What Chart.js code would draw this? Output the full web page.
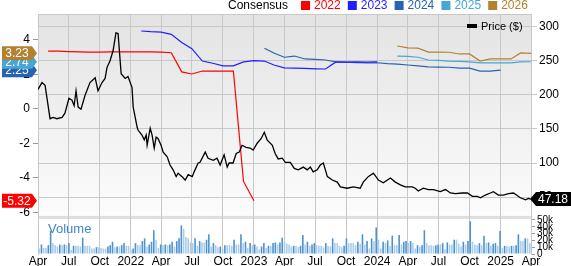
<!DOCTYPE html>
<html>
<head>
<meta charset="utf-8">
<script src="https://cdn.jsdelivr.net/npm/chart.js@4.4.1/dist/chart.umd.min.js"></script>
<style>
  html, body { margin: 0; padding: 0; background: #fff; }
</style>
</head>
<body>
<canvas id="chart" width="571" height="266"></canvas>
<script>
// x axis runs in weeks since 1 Apr 2021
const quarterLabels = ["Apr", "Jul", "Oct", "2022", "Apr", "Jul", "Oct", "2023", "Apr", "Jul", "Oct", "2024", "Apr", "Jul", "Oct", "2025", "Apr"];

// price ($)
const priceWeek = [0, 1.7, 3, 5.1, 6.4, 8, 10.2, 11.4, 13.1, 14.4,
  15.3, 16.1, 17, 18.2, 19.9, 22, 24.2, 25.4, 27.1, 28.4,
  29.2, 30.5, 31.8, 33, 33.9, 35.2, 36.9, 38.1, 39.8, 40.3,
  42, 42.4, 44, 45, 45.8, 46.2, 47.5, 48.3, 49.2, 50,
  50.8, 52.1, 53, 54.7, 55.9, 57.2, 58.5, 59.3, 61, 62.3,
  63.6, 65.3, 66.1, 67.8, 68.6, 70.8, 72, 74.2, 75.8, 77.1,
  78.8, 80.1, 80.9, 82.6, 83.9, 85.2, 86.4, 88.1, 89.8, 91.1,
  92.8, 94.5, 95.8, 97, 99.2, 100.4, 101.7, 103.4, 104.7, 106.8,
  108.5, 110.2, 112.3, 114, 115.3, 116.5, 118.2, 119.5, 120.8, 122.5,
  124.6, 126.7, 128, 130.9, 133.5, 136.4, 137.7, 139.8, 142, 144.1,
  146.2, 149.2, 151.3, 153.4, 155.5, 158.5, 159.7, 161, 163.1, 165.3,
  167.4, 170.3, 172.5, 174.6, 176.7, 179.7, 181.8, 183.9, 186, 187.3,
  189.4, 191.5, 192.8, 194.9, 197, 199.2, 201.3, 203, 204.2, 206.4,
  207.6, 208.5];
const priceValues = [208, 218, 214, 165, 167, 165, 167, 173, 195, 192,
  184, 206, 182, 179, 199, 218, 225, 206, 218, 224,
  240, 250, 265, 291, 290, 231, 224, 227, 211, 182,
  152, 148, 141, 134, 141, 126, 151, 141, 122, 138,
  136, 126, 116, 109, 97, 90, 80, 85, 80, 75,
  83, 80, 87, 100, 101, 116, 107, 104, 107, 97,
  112, 94, 100, 100, 114, 116, 126, 123, 122, 119,
  129, 136, 145, 134, 126, 114, 106, 107, 101, 101,
  92, 90, 94, 90, 94, 87, 90, 97, 100, 80,
  75, 72, 65, 63, 65, 63, 72, 80, 85, 75,
  71, 78, 72, 68, 65, 65, 63, 59, 63, 61,
  61, 58, 61, 56, 55, 56, 56, 51, 51, 49,
  53, 56, 58, 53, 53, 55, 56, 52, 49, 46,
  48, 47.18];

// weekly volume, thousands
const volumeK = [8, 14, 9, 9, 13, 34, 16, 13, 11, 14, 13, 14, 13, 16, 6, 12, 12, 12, 11, 24, 12, 12, 12, 8, 8, 10, 10, 9, 8, 8, 11, 13, 18, 10, 11, 11, 13, 16, 12, 12, 6, 8, 16, 13, 13, 19, 23, 11, 14, 18, 35, 21, 9, 14, 13, 14,
  13, 14, 18, 11, 19, 23, 42, 37, 25, 23, 17, 16, 23, 12, 19, 17, 17, 21, 29, 11, 16, 13, 10, 11, 8, 13, 13, 13, 12, 21, 14, 14, 29, 16, 18, 9, 16, 13, 14, 11, 7, 11, 16, 9, 12, 12, 16, 17, 14, 17, 24, 18, 15,
  14, 11, 12, 12, 10, 12, 28, 14, 18, 12, 14, 16, 13, 12, 12, 10, 16, 12, 11, 23, 16, 16, 12, 10, 12, 23, 16, 16, 16, 13, 18, 15, 29, 14, 19, 8, 23, 19, 39, 21, 8, 18, 16, 20, 12, 27, 13, 13, 28, 14, 18, 19, 16,
  19, 16, 8, 13, 11, 13, 35, 16, 13, 13, 12, 13, 14, 14, 16, 7, 17, 14, 14, 21, 21, 15, 11, 18, 14, 19, 48, 18, 14, 13, 16, 13, 27, 16, 17, 12, 15, 16, 12, 34, 9, 12, 12, 11, 12, 12, 13, 29, 19, 19, 23, 23, 16];
const volumeTicks = [0, 10, 20, 30, 40, 50];

// monthly EPS consensus; start = months after Apr 2021
const eps2022Start = 1;
const eps2022 = [3.36, 3.35, 3.33, 3.31, 3.30, 3.30, 3.31, 3.31, 3.32, 3.31, 3.31, 3.30, 3.26, 2.15, 2.03, 2.2, 2.2, 2.2, 2.2, -4.2, -5.32];
const eps2023Start = 10;
const eps2023 = [4.52, 4.48, 4.46, 4.33, 3.85, 3.5, 2.78, 2.65, 2.5, 2.5, 2.73, 2.8, 2.78, 2.55, 2.38, 2.37, 2.35, 2.33, 2.32, 2.73, 2.72, 2.73, 2.72, 2.73];
const eps2024Start = 22;
const eps2024 = [3.52, 3.25, 3.0, 3.07, 2.9, 2.88, 2.84, 2.73, 2.72, 2.68, 2.67, 2.68, 2.63, 2.6, 2.55, 2.5, 2.44, 2.43, 2.42, 2.37, 2.37, 2.2, 2.2, 2.25];
const eps2025Start = 35;
const eps2025 = [3.07, 3.05, 3.0, 2.84, 2.82, 2.78, 2.76, 2.73, 2.67, 2.67, 2.67, 2.67, 2.73, 2.74];
const eps2026Start = 35;
const eps2026 = [3.65, 3.54, 3.53, 3.3, 3.3, 3.29, 3.19, 3.19, 2.78, 2.9, 2.9, 2.9, 3.25, 3.23];

const FONT = '"Liberation Sans", Arial, sans-serif';
const colors = {
  "2022": "#ff0000",
  "2023": "#1f1fff",
  "2024": "#2763b3",
  "2025": "#45a6d8",
  "2026": "#b3812f"
};

function monthToWeek(m) {
  return (Date.UTC(2021, 3 + m, 1) - Date.UTC(2021, 3, 1)) / 864e5 / 7;
}
const totalWeeks = monthToWeek(48);
const quarterWeeks = quarterLabels.map((_, i) => monthToWeek(i * 3));

function epsPoints(start, vals) {
  return vals.map((v, i) => ({ x: monthToWeek(start + i), y: v }));
}

const volPoints = volumeK.map((v, i) => ({ x: (i + 0.5) * totalWeeks / volumeK.length, y: v }));
const volColors = volumeK.map((v, i) => (i > 0 && v > volumeK[i - 1]) ? "#4d93d0" : "#a9cdec");

function epsSet(year, start, vals) {
  return {
    type: "line", label: year, data: epsPoints(start, vals), yAxisID: "yEps",
    borderColor: colors[year], borderWidth: 1.2, pointRadius: 0, tension: 0, order: 2
  };
}

function flag(ctx, x0, x1, yc, color, text, pointLeft) {
  const h = 14;
  ctx.beginPath();
  if (pointLeft) {
    ctx.moveTo(x0, yc);
    ctx.lineTo(x0 + 6, yc - h / 2);
    ctx.lineTo(x1, yc - h / 2);
    ctx.lineTo(x1, yc + h / 2);
    ctx.lineTo(x0 + 6, yc + h / 2);
  } else {
    ctx.moveTo(x0, yc - h / 2);
    ctx.lineTo(x1 - 5, yc - h / 2);
    ctx.lineTo(x1, yc);
    ctx.lineTo(x1 - 5, yc + h / 2);
    ctx.lineTo(x0, yc + h / 2);
  }
  ctx.closePath();
  ctx.fillStyle = color;
  ctx.fill();
  ctx.fillStyle = "#fff";
  ctx.font = "12px " + FONT;
  ctx.textAlign = "center";
  ctx.textBaseline = "middle";
  ctx.fillText(text, pointLeft ? (x0 + x1 + 5) / 2 : (x0 + x1 - 5) / 2, yc + 0.5);
}

const decor = {
  id: "decor",
  beforeDraw(chart) {
    const { ctx, chartArea: a, scales } = chart;
    const sep = scales.yVol.getPixelForValue(56);
    ctx.save();
    ctx.fillStyle = "#fff";
    ctx.fillRect(0, 0, chart.width, chart.height);
    const g = ctx.createLinearGradient(0, a.top, 0, sep);
    g.addColorStop(0, "#e3e3e3");
    g.addColorStop(1, "#fcfcfc");
    ctx.fillStyle = g;
    ctx.fillRect(a.left, a.top, a.right - a.left, sep - a.top);
    ctx.fillStyle = "#dedede";
    ctx.fillRect(a.left, sep, a.right - a.left, 3);
    ctx.restore();
  },
  afterDraw(chart) {
    const { ctx, chartArea: a, scales } = chart;
    ctx.save();
    // top border
    ctx.strokeStyle = "#c8c8c8";
    ctx.lineWidth = 1;
    ctx.beginPath();
    ctx.moveTo(a.left, a.top + 0.5);
    ctx.lineTo(a.right, a.top + 0.5);
    ctx.stroke();

    // consensus legend
    ctx.font = "12px " + FONT;
    ctx.textBaseline = "middle";
    ctx.textAlign = "left";
    ctx.fillStyle = "#000";
    ctx.fillText("Consensus", 228, 6);
    ["2022", "2023", "2024", "2025", "2026"].forEach((y, i) => {
      const tx = 314 + i * 46.8;
      ctx.fillStyle = colors[y];
      ctx.fillRect(tx - 13, 1, 9, 9);
      ctx.fillText(y, tx, 6);
    });

    // price legend
    ctx.fillStyle = "#000";
    ctx.fillRect(467, 24, 10, 4);
    ctx.font = "11px " + FONT;
    ctx.fillText("Price ($)", 481, 26.5);

    // volume label
    ctx.fillStyle = "#3b88cc";
    ctx.font = "13px " + FONT;
    ctx.fillText("Volume", 48, 229);

    // volume axis labels (a zero-width axis clips its own labels)
    ctx.fillStyle = "#000";
    ctx.font = "10px " + FONT;
    volumeTicks.forEach((v) => {
      ctx.fillText(v === 0 ? "0" : v + "k", a.right + 6, scales.yVol.getPixelForValue(v));
    });

    // last-value flags
    const ye = scales.yEps;
    const last = (arr) => arr[arr.length - 1];
    flag(ctx, 2, 37, ye.getPixelForValue(last(eps2024)), colors["2024"], last(eps2024).toFixed(2), false);
    flag(ctx, 2, 37, ye.getPixelForValue(last(eps2025)), colors["2025"], last(eps2025).toFixed(2), false);
    flag(ctx, 2, 37, ye.getPixelForValue(last(eps2026)), colors["2026"], last(eps2026).toFixed(2), false);
    flag(ctx, 2, 37, ye.getPixelForValue(last(eps2022)), colors["2022"], last(eps2022).toFixed(2), false);
    const lp = last(priceValues);
    flag(ctx, a.right - 1, 571, scales.yPrice.getPixelForValue(lp), "#000", lp.toFixed(2), true);
    ctx.restore();
  }
};

new Chart(document.getElementById("chart"), {
  type: "line",
  data: {
    datasets: [
      {
        type: "line", label: "Price ($)", data: priceWeek.map((w, i) => ({ x: w, y: priceValues[i] })),
        yAxisID: "yPrice", borderColor: "#000", borderWidth: 1.3, pointRadius: 0, tension: 0, order: 1
      },
      epsSet("2022", eps2022Start, eps2022),
      epsSet("2023", eps2023Start, eps2023),
      epsSet("2024", eps2024Start, eps2024),
      epsSet("2025", eps2025Start, eps2025),
      epsSet("2026", eps2026Start, eps2026),
      {
        type: "bar", label: "Volume", data: volPoints, yAxisID: "yVol",
        backgroundColor: volColors, barPercentage: 0.7, categoryPercentage: 1, order: 3
      }
    ]
  },
  options: {
    responsive: false,
    devicePixelRatio: 1,
    animation: false,
    events: [],
    layout: { padding: { top: 14, left: 0, right: 0, bottom: 0 } },
    plugins: { legend: { display: false }, tooltip: { enabled: false } },
    scales: {
      x: {
        type: "linear", min: 0, max: totalWeeks, offset: false,
        afterBuildTicks: (s) => { s.ticks = quarterWeeks.map((v) => ({ value: v })); },
        afterFit: (s) => { s.height = 12; },
        ticks: {
          autoSkip: false, maxRotation: 0, padding: 0, color: "#000",
          font: { family: FONT, size: 12 },
          callback: (v, i) => quarterLabels[i]
        },
        grid: { color: "#c8c8c8", drawTicks: false, offset: false },
        border: { display: false }
      },
      yEps: {
        type: "linear", position: "left", min: -8.406, max: 5.507,
        afterBuildTicks: (s) => { s.ticks = [4, 2, 0, -2, -4, -6].map((v) => ({ value: v })); },
        afterFit: (s) => { s.width = 38; },
        ticks: { color: "#000", padding: 3, font: { family: FONT, size: 12 } },
        grid: { drawOnChartArea: false, tickLength: 5, color: "#999" },
        border: { color: "#c8c8c8" }
      },
      yVol: {
        type: "linear", position: "right", weight: 0, min: 0, max: 352.9,
        afterBuildTicks: (s) => { s.ticks = volumeTicks.map((v) => ({ value: v })); },
        afterFit: (s) => { s.width = 0; },
        ticks: { display: false },
        grid: { drawOnChartArea: false, tickLength: 4, color: "#999" },
        border: { color: "#c8c8c8" }
      },
      yPrice: {
        type: "linear", position: "right", weight: 1, min: -33.5, max: 318.6,
        afterBuildTicks: (s) => { s.ticks = [50, 100, 150, 200, 250, 300].map((v) => ({ value: v })); },
        afterFit: (s) => { s.width = 40; },
        ticks: { color: "#000", padding: 2, font: { family: FONT, size: 12 } },
        grid: { color: "#c8c8c8", tickLength: 6 },
        border: { color: "#c8c8c8" }
      }
    }
  },
  plugins: [decor]
});
</script>
</body>
</html>
